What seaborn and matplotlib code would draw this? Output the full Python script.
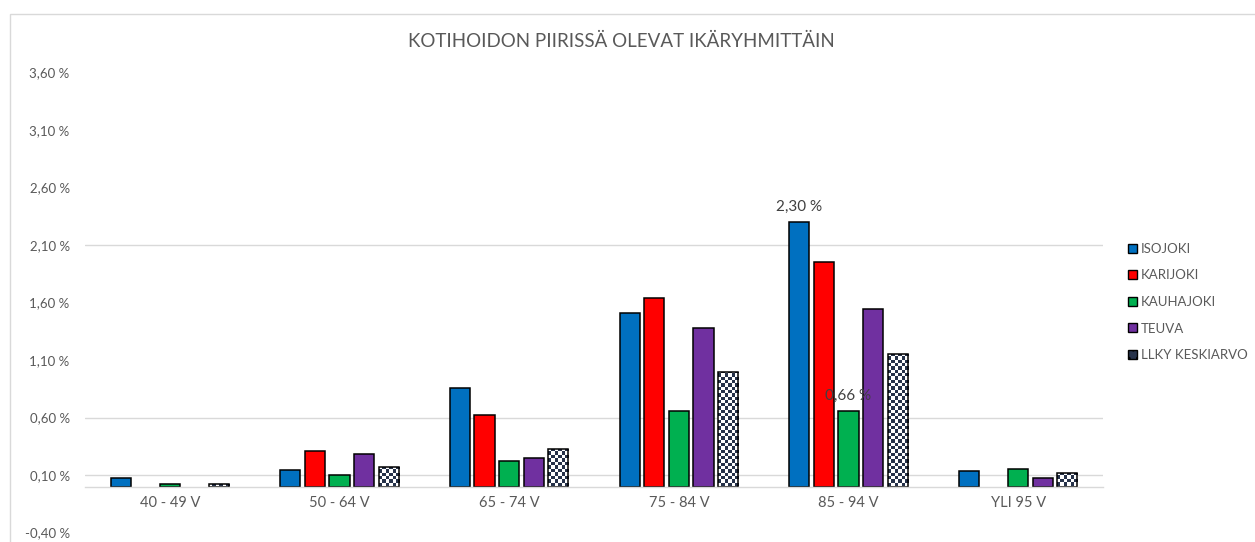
"""Kotihoidon piirissä olevat ikäryhmittäin - grouped bar chart."""

import numpy as np
import pandas as pd
import matplotlib
matplotlib.use("Agg")
import matplotlib.pyplot as plt
from matplotlib.colors import ListedColormap
from matplotlib.patches import Patch, Rectangle
from matplotlib.ticker import FuncFormatter
import seaborn as sns

# data (percent of age group)
age_groups = ["40 - 49 V", "50 - 64 V", "65 - 74 V", "75 - 84 V", "85 - 94 V", "YLI 95 V"]
municipalities = ["ISOJOKI", "KARIJOKI", "KAUHAJOKI", "TEUVA", "LLKY KESKIARVO"]
isojoki = [0.07, 0.14, 0.86, 1.51, 2.30, 0.135]
karijoki = [np.nan, 0.31, 0.62, 1.64, 1.95, np.nan]
kauhajoki = [0.025, 0.10, 0.225, 0.66, 0.66, 0.155]
teuva = [np.nan, 0.28, 0.25, 1.38, 1.54, 0.07]
llky = [0.025, 0.17, 0.325, 1.00, 1.15, 0.115]
y_ticks = [-0.40, 0.10, 0.60, 1.10, 1.60, 2.10, 2.60, 3.10, 3.60]
grid_shown = [0.10, 0.60, 2.10]
bar_labels = {("ISOJOKI", "85 - 94 V"): "2,30 %", ("KAUHAJOKI", "85 - 94 V"): "0,66 %"}

colors = ["#0070C0", "#FF0000", "#00B050", "#7030A0", "#FFFFFF"]
checker_dark = "#26324a"
grey = "#595959"

df = pd.DataFrame({"ika": age_groups * 5,
                   "kunta": np.repeat(municipalities, len(age_groups)),
                   "osuus": isojoki + karijoki + kauhajoki + teuva + llky})
df = df.dropna()

sns.set_theme(style="white")
plt.rcParams["font.family"] = ["Lato", "DejaVu Sans"]

fig = plt.figure(figsize=(12.55, 5.42), dpi=100)
ax = fig.add_axes([85 / 1255, 9.5 / 542, 1018 / 1255, 460 / 542])

sns.barplot(data=df, x="ika", y="osuus", hue="kunta", order=age_groups,
            hue_order=municipalities, palette=colors, width=0.725, gap=0.18,
            edgecolor="black", linewidth=1.1, saturation=1, legend=False,
            errorbar=None, ax=ax)

# checker pattern for the average series
ax.set_xlim(-0.5, 5.5)
ax.set_ylim(-0.4, 3.6)
cell_px = 3.3
for patch in ax.containers[4].patches:
    x0, w, h = patch.get_x(), patch.get_width(), patch.get_height()
    nx = max(1, int(round(w * 1018 / 6 / cell_px)))
    ny = max(1, int(round(h * 115 / cell_px)))
    board = np.indices((ny, nx)).sum(axis=0) % 2
    im = ax.imshow(board, cmap=ListedColormap(["white", checker_dark]),
                   extent=(x0, x0 + w, 0, h), aspect="auto",
                   interpolation="nearest", zorder=patch.get_zorder() - 0.05)
    im.set_clip_path(patch)
    patch.set_facecolor("none")
ax.set_xlim(-0.5, 5.5)
ax.set_ylim(-0.4, 3.6)

# data labels
present = df.set_index(["kunta", "ika"])["osuus"]
for (kunta, ika), text in bar_labels.items():
    groups = [a for a in age_groups if (kunta, a) in present.index]
    patch = ax.containers[municipalities.index(kunta)].patches[groups.index(ika)]
    ax.text(patch.get_x() + patch.get_width() / 2, patch.get_height() + 0.07, text,
            ha="center", va="bottom", fontsize=11, color="#404040")

# axes styling
ax.set_yticks(y_ticks)
ax.yaxis.set_major_formatter(FuncFormatter(lambda v, p: f"{v:.2f}".replace(".", ",") + " %"))
ax.tick_params(axis="y", length=0, pad=11, labelsize=9.5, labelcolor=grey)
ax.tick_params(axis="x", length=0, pad=7, labelsize=10.5, labelcolor=grey)
ax.set_xlabel("")
ax.set_ylabel("")
ax.set_axisbelow(True)
ax.yaxis.grid(True, color="#d9d9d9", linewidth=1)
for val, line in zip(y_ticks, ax.get_ygridlines()):
    line.set_visible(any(abs(val - g) < 1e-6 for g in grid_shown))
for side in ["left", "right", "top"]:
    ax.spines[side].set_visible(False)
ax.spines["bottom"].set_position(("data", 0))
ax.spines["bottom"].set_color("#d9d9d9")
ax.spines["bottom"].set_linewidth(1)

# legend
handles = [Patch(facecolor=c, edgecolor="black", linewidth=1.0) for c in colors[:4]]
handles.append(Patch(facecolor=checker_dark, edgecolor="black", hatch="..", linewidth=1.0))
leg = fig.legend(handles, municipalities, loc="center left",
                 bbox_to_anchor=(1128 / 1255, (542 - 302) / 542), frameon=False,
                 fontsize=9.5, handlelength=0.65, handleheight=0.65,
                 handletextpad=0.3, labelspacing=1.1, borderpad=0, borderaxespad=0)
for t in leg.get_texts():
    t.set_color(grey)

# title and chart frame
fig.text(0.495, (542 - 41) / 542, "KOTIHOIDON PIIRISSÄ OLEVAT IKÄRYHMITTÄIN",
         ha="center", va="center", fontsize=13.5, color=grey)
fig.patches.append(Rectangle((10 / 1255, -0.1), 1.2, 0.1 + (542 - 14) / 542,
                             transform=fig.transFigure, fill=False,
                             edgecolor="#d9d9d9", linewidth=1))

fig.savefig("out.png", dpi=100)
